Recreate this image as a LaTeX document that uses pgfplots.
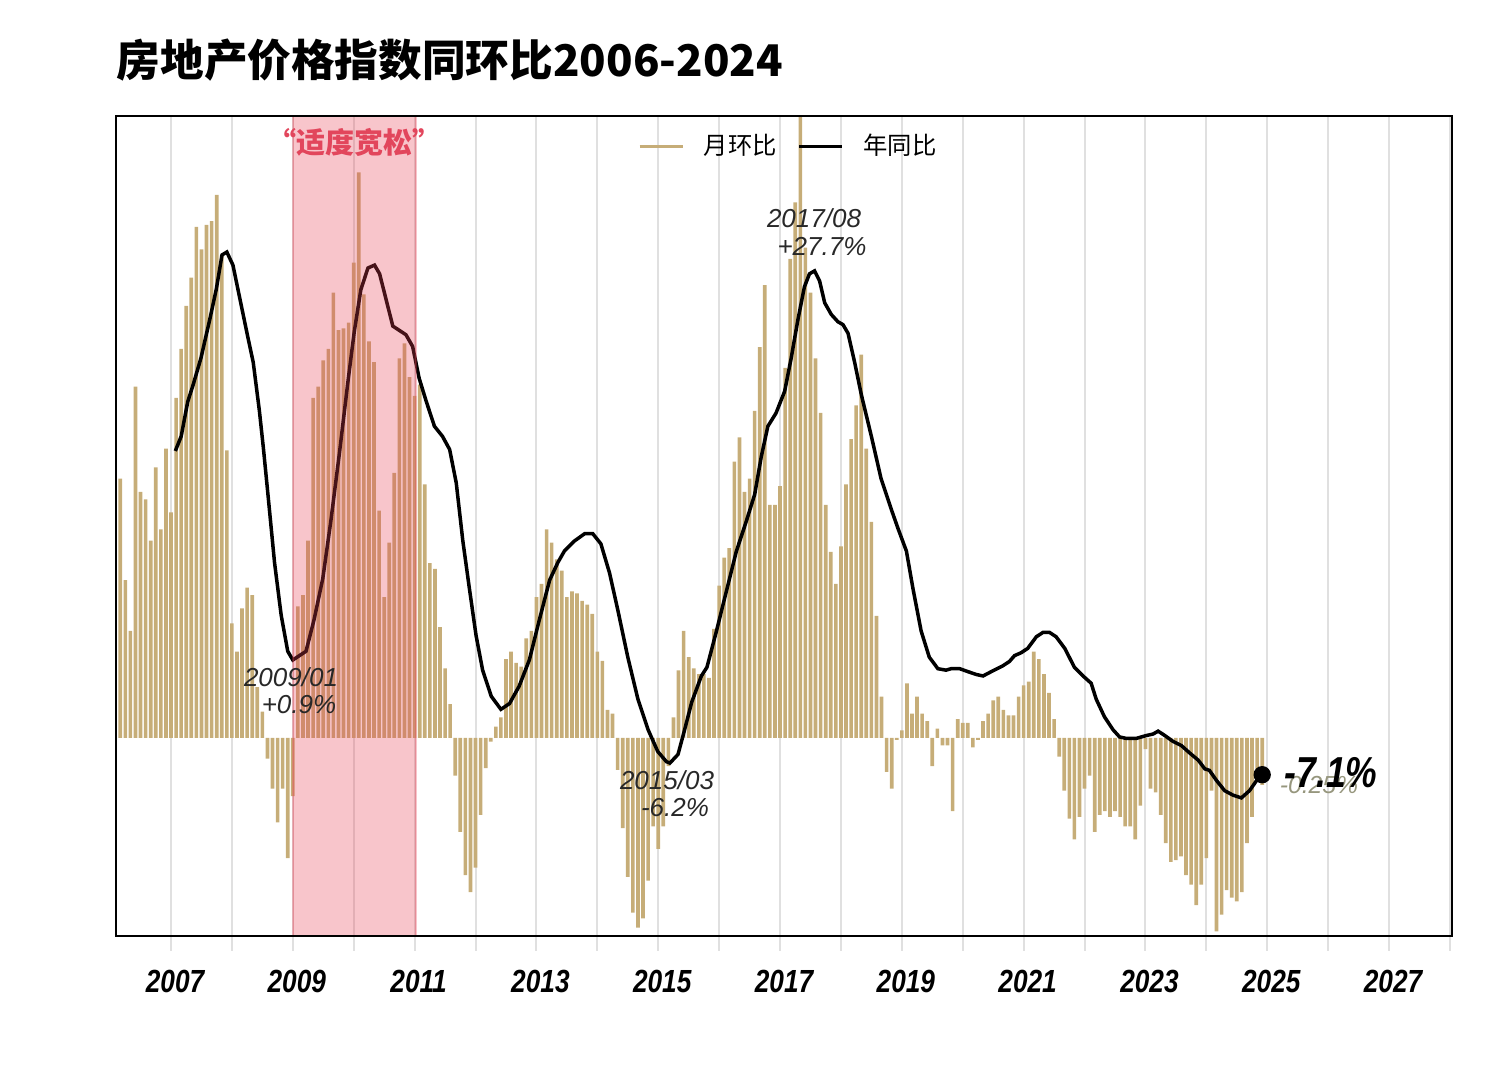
\documentclass[border=0pt]{standalone}
\usepackage{pgfplots}
\pgfplotsset{compat=1.18}
\usepackage{pgfplotstable}
\usepackage{fontspec}
\setmainfont{Liberation Sans}
\newfontfamily\cjk{Noto Sans CJK SC}
\newfontfamily\tickfont[FakeStretch=0.82]{Liberation Sans}
\definecolor{tanc}{RGB}{198,173,120}
\definecolor{gridc}{RGB}{224,224,224}
\definecolor{zonec}{RGB}{232,64,84}
\definecolor{redtxt}{RGB}{226,70,92}
\definecolor{annc}{RGB}{40,40,40}
\definecolor{olivec}{RGB}{150,150,125}

\pgfplotstableread{
n v
2 1.38
3 0.84
4 0.57
5 1.87
6 1.31
7 1.27
8 1.05
9 1.44
10 1.11
11 1.54
12 1.20
13 1.81
14 2.07
15 2.30
16 2.45
17 2.72
18 2.60
19 2.73
20 2.75
21 2.89
22 2.57
23 1.53
24 0.61
25 0.46
26 0.69
27 0.80
28 0.76
29 0.27
30 0.14
31 -0.11
32 -0.27
33 -0.45
34 -0.27
35 -0.64
36 -0.31
37 0.70
38 0.76
39 1.05
40 1.81
41 1.87
42 2.01
43 2.07
44 2.37
45 2.17
46 2.18
47 2.21
48 2.53
49 3.01
50 2.36
51 2.11
52 2.00
53 1.21
54 0.75
55 1.04
56 1.41
57 2.02
58 2.10
59 1.92
60 1.82
61 1.88
62 1.35
63 0.93
64 0.90
65 0.59
66 0.37
67 0.18
68 -0.20
69 -0.50
70 -0.73
71 -0.82
72 -0.69
73 -0.41
74 -0.16
75 -0.02
76 0.06
77 0.11
78 0.42
79 0.46
80 0.40
81 0.38
82 0.53
83 0.57
84 0.75
85 0.82
86 1.11
87 1.04
88 0.95
89 0.89
90 0.75
91 0.78
92 0.77
93 0.73
94 0.71
95 0.66
96 0.46
97 0.41
98 0.15
99 0.13
100 -0.17
101 -0.48
102 -0.74
103 -0.93
104 -1.01
105 -0.96
106 -0.76
107 -0.47
108 -0.59
109 -0.47
110 -0.15
111 0.11
112 0.36
113 0.57
114 0.43
115 0.37
116 0.34
117 0.34
118 0.32
119 0.58
120 0.81
121 0.96
122 1.01
123 1.47
124 1.60
125 1.31
126 1.38
127 1.74
128 2.08
129 2.41
130 1.24
131 1.24
132 1.34
133 1.97
134 2.55
135 2.85
136 3.50
137 2.61
138 2.37
139 2.02
140 1.73
141 1.24
142 0.99
143 0.82
144 1.02
145 1.35
146 1.59
147 1.77
148 2.04
149 1.54
150 1.15
151 0.65
152 0.22
153 -0.18
154 -0.27
155 -0.01
156 0.04
157 0.29
158 0.13
159 0.22
160 0.13
161 0.09
162 -0.15
163 0.05
164 -0.04
165 -0.04
166 -0.39
167 0.10
168 0.08
169 0.08
170 -0.05
171 -0.01
172 0.09
173 0.13
174 0.20
175 0.22
176 0.15
177 0.12
178 0.12
179 0.22
180 0.28
181 0.30
182 0.46
183 0.42
184 0.34
185 0.24
186 0.10
187 -0.10
188 -0.28
189 -0.43
190 -0.54
191 -0.42
192 -0.27
193 -0.20
194 -0.50
195 -0.41
196 -0.39
197 -0.42
198 -0.39
199 -0.42
200 -0.47
201 -0.47
202 -0.54
203 -0.36
204 -0.06
205 -0.27
206 -0.29
207 -0.41
208 -0.56
209 -0.66
210 -0.65
211 -0.63
212 -0.73
213 -0.78
214 -0.89
215 -0.78
216 -0.64
217 -0.28
218 -1.03
219 -0.94
220 -0.81
221 -0.85
222 -0.87
223 -0.82
224 -0.56
225 -0.42
226 -0.21
227 -0.25
}\barsdata

\pgfplotstableread{
n v
12.85 15.3
14.0 16.3
15.3 18.7
16.4 19.9
17.9 21.7
19.6 24.3
20.9 26.4
22.05 28.8
23.0 29.0
24.2 28.1
25.5 25.9
27.1 23.2
28.2 21.4
29.4 18.1
30.2 15.5
31.1 12.3
32.4 7.6
33.7 4.0
35.0 1.5
36.0 0.9
38.6 1.5
40.2 3.7
41.9 6.5
43.5 10.5
45.2 15.2
46.8 19.9
48.1 23.5
49.4 26.4
50.8 27.9
52.1 28.1
53.1 27.5
54.4 25.7
55.7 23.9
57.0 23.6
58.3 23.3
59.6 22.5
60.9 20.3
62.3 18.7
63.9 17.0
65.5 16.3
66.9 15.4
68.2 13.1
69.5 9.1
70.8 5.8
72.1 2.6
73.4 0.2
75.1 -1.6
77.0 -2.5
78.7 -2.1
80.6 -0.9
82.6 0.9
84.6 3.7
86.6 6.4
88.2 7.6
89.5 8.4
91.5 9.1
93.5 9.6
95.1 9.6
96.7 8.9
98.4 6.9
100.0 4.4
102.0 1.1
104.0 -1.8
106.0 -3.9
107.9 -5.4
109.6 -6.1
110.3 -6.2
111.9 -5.6
113.2 -3.9
114.6 -2.0
116.5 -0.2
117.6 0.4
119.4 2.8
121.4 5.6
123.4 8.4
125.3 10.4
127.0 12.3
128.3 14.9
129.6 17.0
131.2 17.9
132.9 19.4
134.2 21.7
135.5 24.3
136.8 26.6
137.8 27.5
138.8 27.7
139.8 27.0
140.8 25.5
142.1 24.7
143.4 24.2
144.4 24.0
145.4 23.4
146.7 21.4
148.0 19.2
150.0 16.3
151.9 13.4
153.9 11.3
155.2 10.0
156.9 8.4
158.2 5.8
159.8 2.9
161.4 1.1
163.1 0.3
164.7 0.2
165.7 0.3
167.4 0.3
169.0 0.1
170.7 -0.1
172.0 -0.2
173.9 0.15
175.9 0.5
177.2 0.8
178.2 1.2
179.5 1.4
180.8 1.7
182.5 2.5
183.8 2.8
185.1 2.8
186.4 2.5
188.1 1.7
190.0 0.4
191.7 -0.2
193.3 -0.7
194.3 -1.8
195.9 -3.0
197.6 -3.9
198.9 -4.4
200.2 -4.5
202.2 -4.5
204.2 -4.3
205.5 -4.2
206.5 -4.0
207.8 -4.3
209.4 -4.7
211.1 -5.0
212.7 -5.5
214.4 -6.0
215.7 -6.6
216.6 -6.7
218.0 -7.4
219.6 -8.1
221.2 -8.4
222.9 -8.6
224.5 -8.1
225.9 -7.4
227.0 -7.0
}\linedata

\begin{document}
\begin{tikzpicture}
\path (0,0) rectangle (453.6pt,324pt);
\begin{axis}[
  at={(34.8pt,43.2pt)}, anchor=south west,
  scale only axis, width=400.8pt, height=246pt,
  xmin=1.16, xmax=264.4, ymin=-1.054, ymax=3.310,
  ybar, bar width=0.72,
  xtick={12,24,...,264},
  xticklabels={2007,,2009,,2011,,2013,,2015,,2017,,2019,,2021,,2023,,2025,,2027,},
  xtick pos=bottom, ytick=\empty,
  xmajorgrids, grid style={gridc, line width=0.6pt},
  tick align=outside, major tick length=4.5pt,
  tick style={gridc, line width=0.6pt},
  axis line style={draw=none},
  xticklabel style={font=\tickfont\bfseries\itshape\fontsize{9.6}{10}\selectfont, anchor=center, yshift=-9pt, xshift=1.2pt},
]
\addplot[fill=tanc, draw=none] table[x=n,y=v]{\barsdata};
\end{axis}
\begin{axis}[
  at={(34.8pt,43.2pt)}, anchor=south west,
  scale only axis, width=400.8pt, height=246pt,
  xmin=1.16, xmax=264.4, ymin=-18.11, ymax=38.37,
  hide axis,
  legend columns=2,
  legend style={draw=none, fill=none, at={(0.505,0.963)}, anchor=center,
    font=\cjk\fontsize{7.3}{8}\selectfont,
    /tikz/every odd column/.append style={column sep=3.9pt},
    /tikz/every even column/.append style={column sep=4.2pt}},
  legend image code/.code={\draw[#1] (0pt,0pt) -- (12.9pt,0pt);},
]
\addlegendimage{tanc, line width=0.9pt}
\addlegendentry{月环比}
\addplot[black, line width=1.05pt] table[x=n,y=v]{\linedata};
\addlegendentry{年同比}
\addplot[only marks, mark=*, mark size=2.4pt, black, forget plot] coordinates {(227,-7.0)};
\fill[zonec, opacity=0.3] (axis cs:36,-18.11) rectangle (axis cs:60.3,38.37);
\draw[zonec, opacity=0.3, line width=0.6pt] (axis cs:36,-18.11) -- (axis cs:36,38.37);
\draw[zonec, opacity=0.3, line width=0.6pt] (axis cs:60.3,-18.11) -- (axis cs:60.3,38.37);
\end{axis}
\draw[black, line width=0.6pt] (34.8pt,43.2pt) rectangle ++(400.8pt,246pt);
\node[font=\cjk\bfseries\fontsize{13.1}{16}\selectfont, anchor=west, inner sep=0pt] at (34.8pt,306pt) {房地产价格指数同环比2006-2024};
\node[font=\cjk\bfseries\fontsize{8.7}{10}\selectfont, text=redtxt, inner sep=0pt] at (106.2pt,281.4pt) {“适度宽松”};
\node[font=\itshape\fontsize{7.8}{9}\selectfont, text=annc, inner sep=0pt] at (87.3pt,120.9pt) {2009/01};
\node[font=\itshape\fontsize{7.8}{9}\selectfont, text=annc, inner sep=0pt] at (89.7pt,112.5pt) {+0.9\%};
\node[font=\itshape\fontsize{7.8}{9}\selectfont, text=annc, inner sep=0pt] at (200.1pt,90pt) {2015/03};
\node[font=\itshape\fontsize{7.8}{9}\selectfont, text=annc, inner sep=0pt] at (202.5pt,81.6pt) {-6.2\%};
\node[font=\itshape\fontsize{7.8}{9}\selectfont, text=annc, inner sep=0pt] at (244.2pt,258.6pt) {2017/08};
\node[font=\itshape\fontsize{7.8}{9}\selectfont, text=annc, inner sep=0pt] at (246.6pt,249.9pt) {+27.7\%};
\node[font=\itshape\fontsize{7.4}{9}\selectfont, text=olivec, inner sep=0pt] at (395.7pt,88.5pt) {-0.25\%};
\node[font=\tickfont\bfseries\itshape\fontsize{13}{15}\selectfont, inner sep=0pt] at (399.3pt,92.1pt) {-7.1\%};
\end{tikzpicture}
\end{document}
